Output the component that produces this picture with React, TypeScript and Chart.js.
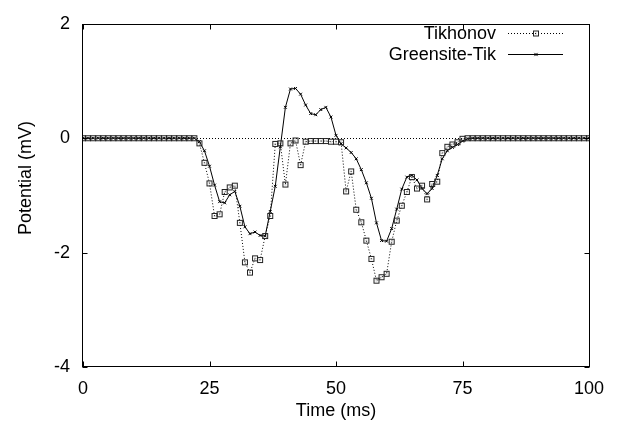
import React, { useEffect, useRef } from 'react';
import { Chart, registerables } from 'chart.js';

Chart.register(...registerables);

// Time samples (ms), 1 ms apart
const TIMES: number[] = Array.from({ length: 101 }, (_, i) => i);

const TIKHONOV: number[] = [
  0, 0, 0, 0, 0, 0, 0, 0, 0, 0,
  0, 0, 0, 0, 0, 0, 0, 0, 0, 0,
  0, 0, 0, -0.09, -0.43, -0.79, -1.36, -1.33, -0.94, -0.86,
  -0.83, -1.48, -2.17, -2.35, -2.10, -2.13, -1.71, -1.36, -0.10, -0.09,
  -0.81, -0.09, -0.04, -0.47, -0.06, -0.05, -0.05, -0.05, -0.05, -0.06,
  -0.06, -0.07, -0.93, -0.58, -1.25, -1.47, -1.79, -2.11, -2.49, -2.43,
  -2.37, -1.81, -1.44, -1.18, -0.94, -0.68, -0.88, -0.83, -1.07, -0.80,
  -0.76, -0.26, -0.15, -0.11, -0.07, -0.01, 0, 0, 0, 0,
  0, 0, 0, 0, 0, 0, 0, 0, 0, 0,
  0, 0, 0, 0, 0, 0, 0, 0, 0, 0,
  0,
];

const GREENSITE: number[] = [
  0, 0, 0, 0, 0, 0, 0, 0, 0, 0,
  0, 0, 0, 0, 0, 0, 0, 0, 0, 0,
  0, 0, 0, -0.06, -0.22, -0.49, -0.82, -1.11, -1.13, -0.99,
  -0.93, -1.19, -1.55, -1.67, -1.64, -1.70, -1.71, -1.28, -0.84, -0.15,
  0.54, 0.86, 0.87, 0.77, 0.58, 0.43, 0.41, 0.50, 0.54, 0.37,
  0.05, -0.10, -0.17, -0.25, -0.36, -0.55, -0.78, -1.05, -1.48, -1.79,
  -1.80, -1.58, -1.24, -0.89, -0.68, -0.65, -0.73, -0.88, -0.97, -0.88,
  -0.65, -0.36, -0.22, -0.16, -0.11, -0.05, -0.01, 0, 0, 0,
  0, 0, 0, 0, 0, 0, 0, 0, 0, 0,
  0, 0, 0, 0, 0, 0, 0, 0, 0, 0,
  0,
];

const SERIES_LABELS: string[] = ['Tikhonov', 'Greensite-Tik'];
const X_TICKS: number[] = [0, 25, 50, 75, 100];
const Y_TICKS: number[] = [-4, -2, 0, 2];
const X_TITLE = 'Time (ms)';
const Y_TITLE = 'Potential (mV)';

const FONT = '"Liberation Sans", Arial, Helvetica, sans-serif';

function makeBoxPoint(): HTMLCanvasElement {
  const c = document.createElement('canvas');
  c.width = 8;
  c.height = 8;
  const g = c.getContext('2d')!;
  g.strokeStyle = '#222';
  g.lineWidth = 1;
  g.strokeRect(1.5, 1.5, 5, 5);
  g.fillStyle = '#555';
  g.fillRect(3.5, 3.5, 1, 1);
  return c;
}

function drawCross(ctx: CanvasRenderingContext2D, x: number, y: number, r: number) {
  ctx.beginPath();
  ctx.moveTo(x - r, y - r);
  ctx.lineTo(x + r, y + r);
  ctx.moveTo(x - r, y + r);
  ctx.lineTo(x + r, y - r);
  ctx.stroke();
}

export default function App() {
  const ref = useRef<HTMLCanvasElement | null>(null);

  useEffect(() => {
    if (!ref.current) return;
    const boxPoint = makeBoxPoint();

    const framePlugin = {
      id: 'gnuFrame',
      beforeDatasetsDraw(chart: any) {
        const { ctx, chartArea: a, scales } = chart;
        const y0 = Math.round(scales.y.getPixelForValue(0)) + 0.5;
        ctx.save();
        ctx.strokeStyle = '#000';
        ctx.lineWidth = 1;
        ctx.setLineDash([1, 2]);
        ctx.beginPath();
        ctx.moveTo(a.left, y0);
        ctx.lineTo(a.right, y0);
        ctx.stroke();
        ctx.restore();
      },
      afterDraw(chart: any) {
        const { ctx, chartArea: a, scales } = chart;
        ctx.save();
        ctx.strokeStyle = '#000';
        ctx.lineWidth = 1;
        ctx.setLineDash([]);
        const L = Math.round(a.left) - 0.5;
        const R = Math.round(a.right) + 0.5;
        const T = Math.round(a.top) + 0.5;
        const B = Math.round(a.bottom) - 0.5;
        ctx.strokeRect(L, T, R - L, B - T);
        const tl = 5;
        ctx.beginPath();
        X_TICKS.forEach((v) => {
          const px = Math.round(scales.x.getPixelForValue(v)) + 0.5;
          ctx.moveTo(px, B);
          ctx.lineTo(px, B - tl);
          ctx.moveTo(px, T);
          ctx.lineTo(px, T + tl);
        });
        Y_TICKS.forEach((v) => {
          const py = Math.round(scales.y.getPixelForValue(v)) + 0.5;
          ctx.moveTo(L, py);
          ctx.lineTo(L + tl, py);
          ctx.moveTo(R, py);
          ctx.lineTo(R - tl, py);
        });
        ctx.stroke();

        // axis titles
        ctx.fillStyle = '#000';
        ctx.font = `18px ${FONT}`;
        ctx.textAlign = 'center';
        ctx.textBaseline = 'middle';
        ctx.fillText(X_TITLE, (a.left + a.right) / 2, 411);
        ctx.save();
        ctx.translate(26, 178);
        ctx.rotate(-Math.PI / 2);
        ctx.fillText(Y_TITLE, 0, 0);
        ctx.restore();

        // legend (gnuplot style: text right-aligned, sample on the right)
        const rows = [33.5, 54.5];
        chart.data.datasets.forEach((ds: any, i: number) => {
          const y = rows[i];
          ctx.fillStyle = '#000';
          ctx.textAlign = 'right';
          ctx.textBaseline = 'middle';
          ctx.font = `18px ${FONT}`;
          ctx.fillText(ds.label, 496, y + 1);
          ctx.strokeStyle = ds.borderColor;
          ctx.lineWidth = 1;
          ctx.setLineDash(ds.borderDash || []);
          ctx.beginPath();
          ctx.moveTo(508, y);
          ctx.lineTo(563, y);
          ctx.stroke();
          ctx.setLineDash([]);
          if (i === 0) {
            ctx.drawImage(boxPoint, 536 - 4, y - 4);
          } else {
            drawCross(ctx, 536, y, 1.6);
          }
        });
        ctx.restore();
      },
    };

    const chart = new Chart(ref.current, {
      type: 'line',
      data: {
        datasets: [
          {
            label: SERIES_LABELS[0],
            data: TIMES.map((t, i) => ({ x: t, y: TIKHONOV[i] })),
            borderColor: '#000',
            borderWidth: 1,
            borderDash: [1, 2],
            pointStyle: boxPoint,
            pointRadius: 4,
            pointBorderColor: '#222',
            pointBackgroundColor: 'transparent',
            fill: false,
            tension: 0,
          },
          {
            label: SERIES_LABELS[1],
            data: TIMES.map((t, i) => ({ x: t, y: GREENSITE[i] })),
            borderColor: '#000',
            borderWidth: 1,
            pointStyle: 'crossRot',
            pointRadius: 2,
            pointBorderWidth: 1,
            pointBorderColor: '#000',
            fill: false,
            tension: 0,
          },
        ],
      },
      options: {
        responsive: false,
        animation: false,
        layout: { padding: { top: 18, right: 29, left: 0, bottom: 0 } },
        plugins: {
          legend: { display: false },
          tooltip: { enabled: false },
        },
        scales: {
          x: {
            type: 'linear',
            min: 0,
            max: 100,
            grid: { display: false, drawTicks: false },
            border: { display: false },
            ticks: {
              stepSize: 25,
              color: '#000',
              padding: 11,
              font: { family: FONT, size: 18 },
              maxRotation: 0,
            },
            afterFit: (s: any) => {
              s.height = 66;
            },
          },
          y: {
            type: 'linear',
            min: -4,
            max: 2,
            grid: { display: false, drawTicks: false },
            border: { display: false },
            ticks: {
              stepSize: 2,
              color: '#000',
              padding: 13,
              font: { family: FONT, size: 18 },
            },
            afterFit: (s: any) => {
              s.width = 83;
            },
          },
        },
      },
      plugins: [framePlugin],
    });

    return () => chart.destroy();
  }, []);

  return (
    <div style={{ position: 'absolute', left: 0, top: 0, width: 618, height: 433, background: '#fff' }}>
      <canvas ref={ref} width={618} height={433} />
    </div>
  );
}
